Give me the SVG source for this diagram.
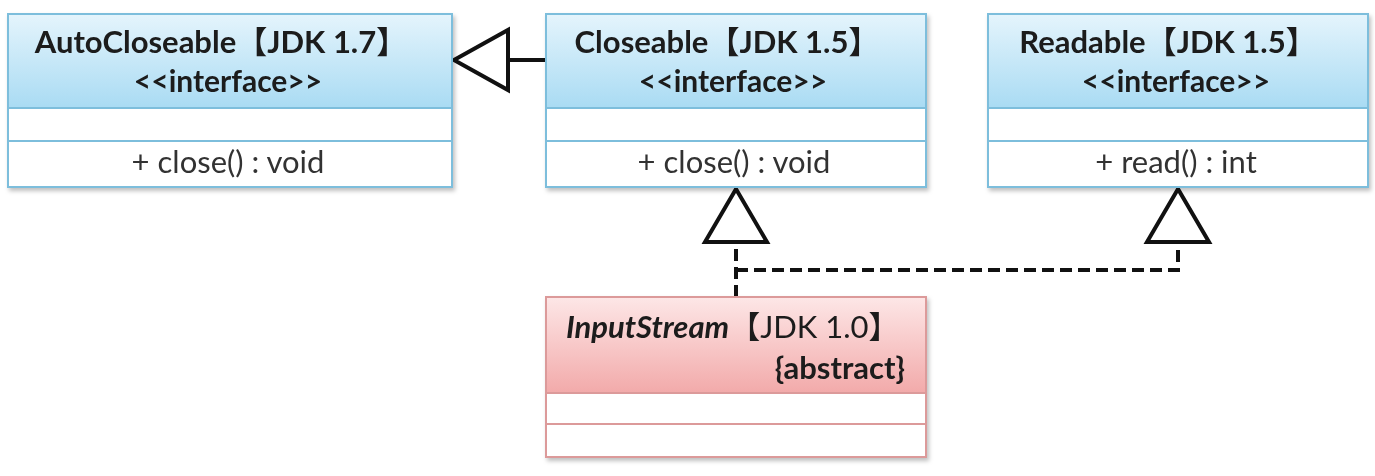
<svg xmlns="http://www.w3.org/2000/svg" width="1375" height="476" viewBox="0 0 1375 476">
<style>
.t{font-family:Lato,"Noto Sans","Noto Sans CJK SC",sans-serif;font-size:30px;fill:#1a1a1a}
.h{font-size:31px}
.b{font-weight:bold}
.m{font-family:Lato,"Noto Sans","Noto Sans CJK SC",sans-serif;font-size:31px;fill:#333}
.bx{fill:#fff;stroke:#7dbedc;stroke-width:2}
.px{fill:#fff;stroke:#dc9a9a;stroke-width:2}
.ln{fill:none;stroke:#111;stroke-width:4}
.ds{fill:none;stroke:#111;stroke-width:4;stroke-dasharray:12 6}
.tri{fill:#fff;stroke:#111;stroke-width:4;stroke-linejoin:miter}
</style>
<defs>
<linearGradient id="gb" x1="0" y1="0" x2="0" y2="1"><stop offset="0" stop-color="#e4f4fc"/><stop offset="1" stop-color="#a9dbf3"/></linearGradient>
<linearGradient id="gp" x1="0" y1="0" x2="0" y2="1"><stop offset="0" stop-color="#fde6e6"/><stop offset="1" stop-color="#f2aaaa"/></linearGradient>
<filter id="sh" x="-5%" y="-5%" width="110%" height="115%"><feDropShadow dx="2" dy="3" stdDeviation="2" flood-color="#000" flood-opacity="0.25"/></filter>
</defs>
<rect width="1375" height="476" fill="#fff"/>
<g id="connectors">
<line class="ln" x1="546" y1="60" x2="508" y2="60"/>
<polygon class="tri" points="454,60 508,30 508,90"/>
<polyline class="ds" points="736,297 736,243"/>
<polyline class="ds" points="736,270 1178,270 1178,243"/>
<polygon class="tri" points="736,189 705,242 767,242"/>
<polygon class="tri" points="1178,189 1147,242 1209,242"/>
</g>
<g id="autocloseable" filter="url(#sh)">
<rect class="bx" x="8" y="14" width="444" height="173"/>
<rect x="9" y="15" width="442" height="93" fill="url(#gb)"/>
<line x1="8" y1="108" x2="452" y2="108" stroke="#7dbedc" stroke-width="2"/>
<line x1="8" y1="141" x2="452" y2="141" stroke="#7dbedc" stroke-width="2"/>
<text class="t b h" x="221" y="53" text-anchor="middle">AutoCloseable【JDK 1.7】</text>
<text class="t b" x="228" y="92" text-anchor="middle">&lt;&lt;interface&gt;&gt;</text>
<text class="m" x="228" y="173" text-anchor="middle">+ close() : void</text>
</g>
<g id="closeable" filter="url(#sh)">
<rect class="bx" x="546" y="14" width="380" height="173"/>
<rect x="547" y="15" width="378" height="93" fill="url(#gb)"/>
<line x1="546" y1="108" x2="926" y2="108" stroke="#7dbedc" stroke-width="2"/>
<line x1="546" y1="141" x2="926" y2="141" stroke="#7dbedc" stroke-width="2"/>
<text class="t b h" x="727" y="53" text-anchor="middle">Closeable【JDK 1.5】</text>
<text class="t b" x="733" y="92" text-anchor="middle">&lt;&lt;interface&gt;&gt;</text>
<text class="m" x="734" y="173" text-anchor="middle">+ close() : void</text>
</g>
<g id="readable" filter="url(#sh)">
<rect class="bx" x="988" y="14" width="380" height="173"/>
<rect x="989" y="15" width="378" height="93" fill="url(#gb)"/>
<line x1="988" y1="108" x2="1368" y2="108" stroke="#7dbedc" stroke-width="2"/>
<line x1="988" y1="141" x2="1368" y2="141" stroke="#7dbedc" stroke-width="2"/>
<text class="t b h" x="1168" y="53" text-anchor="middle">Readable【JDK 1.5】</text>
<text class="t b" x="1176" y="92" text-anchor="middle">&lt;&lt;interface&gt;&gt;</text>
<text class="m" x="1176" y="173" text-anchor="middle">+ read() : int</text>
</g>
<g id="inputstream" filter="url(#sh)">
<rect class="px" x="546" y="297" width="380" height="160"/>
<rect x="547" y="298" width="378" height="95" fill="url(#gp)"/>
<line x1="546" y1="393" x2="926" y2="393" stroke="#dc9a9a" stroke-width="2"/>
<line x1="546" y1="424" x2="926" y2="424" stroke="#dc9a9a" stroke-width="2"/>
<text class="t h" x="566" y="338"><tspan class="b" font-style="italic">InputStream</tspan>【JDK 1.0】</text>
<text class="t b h" x="905" y="379" text-anchor="end">{abstract}</text>
</g>
</svg>
